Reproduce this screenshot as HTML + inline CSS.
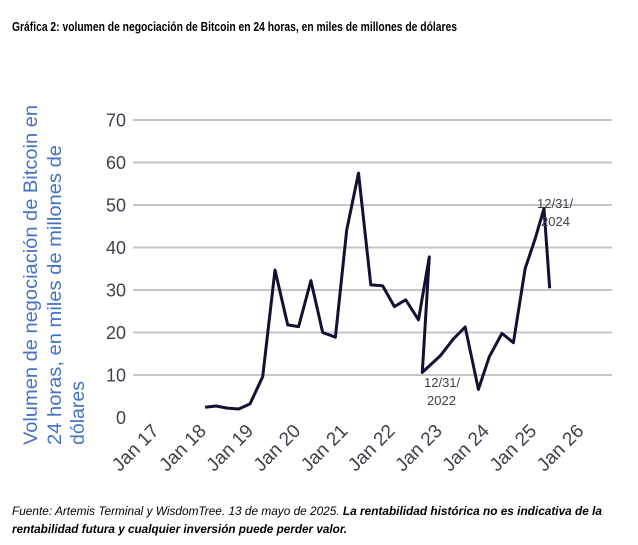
<!DOCTYPE html>
<html><head><meta charset="utf-8"><style>
html,body{margin:0;padding:0;background:#fff;}
svg{display:block;font-family:"Liberation Sans",sans-serif;}
</style></head><body>
<svg id="chart" width="638" height="545" viewBox="0 0 638 545" xmlns="http://www.w3.org/2000/svg">
<text x="12" y="31" font-size="12.5" font-weight="bold" fill="#000" textLength="445" lengthAdjust="spacingAndGlyphs">Gráfica 2: volumen de negociación de Bitcoin en 24 horas, en miles de millones de dólares</text>
<g fill="#4472c4" font-size="19">
<text transform="translate(37,445) rotate(-90)" textLength="340" lengthAdjust="spacingAndGlyphs">Volumen de negociación de Bitcoin en</text>
<text transform="translate(61,445) rotate(-90)" textLength="300" lengthAdjust="spacingAndGlyphs">24 horas, en miles de millones de</text>
<text transform="translate(84,445) rotate(-90)" textLength="64" lengthAdjust="spacingAndGlyphs">dólares</text>
</g>
<g id="grid"></g><g id="yticks"></g><g id="xticks"></g>
<path id="line" fill="none" stroke="#111133" stroke-width="3" stroke-linejoin="round"/>
<g font-size="13" fill="#404050">
<text x="424" y="387">12/31/</text><text x="427" y="405">2022</text>
</g>
<g font-size="13" fill="#404050">
<text x="537" y="208">12/31/</text><text x="541" y="226">2024</text>
</g>
<g font-size="11.5" fill="#000" font-style="italic">
<text x="12" y="515" textLength="590" lengthAdjust="spacingAndGlyphs">Fuente: Artemis Terminal y WisdomTree. 13 de mayo de 2025. <tspan font-weight="bold">La rentabilidad histórica no es indicativa de la</tspan></text>
<text x="12" y="533" font-weight="bold" textLength="335" lengthAdjust="spacingAndGlyphs">rentabilidad futura y cualquier inversión puede perder valor.</text>
</g>
</svg>
<script>
const yTicks=[0,10,20,30,40,50,60,70];
const xTickLabels=["Jan 17","Jan 18","Jan 19","Jan 20","Jan 21","Jan 22","Jan 23","Jan 24","Jan 25","Jan 26"];
const xTickYears=[17,18,19,20,21,22,23,24,25,26];
const dates=[18.02,18.25,18.49,18.73,18.97,19.24,19.50,19.77,20.00,20.26,20.51,20.78,21.02,21.27,21.53,21.78,22.03,22.27,22.54,22.77,22.62,23.0,23.28,23.53,23.81,24.04,24.31,24.55,24.80,25.01,25.20,25.32];
const volumes=[2.4,2.7,2.2,2.0,3.2,9.6,34.7,21.8,21.4,32.2,20.0,18.9,44.1,57.5,31.2,31.0,26.1,27.7,23.0,37.8,10.6,14.5,18.5,21.3,6.6,14.3,19.8,17.6,35.1,42.0,49.2,30.4];
const NS="http://www.w3.org/2000/svg";
const X=v=>157+(v-17)*47.2;
const Y=v=>417.5-v*4.25;
const grid=document.getElementById('grid'),yt=document.getElementById('yticks'),xt=document.getElementById('xticks');
yTicks.forEach(t=>{
  if(t>0){const l=document.createElementNS(NS,'line');
  
  
  l.setAttribute('x1',133);l.setAttribute('x2',612);l.setAttribute('y1',Y(t));l.setAttribute('y2',Y(t));
  l.setAttribute('stroke','#c4c6ca');l.setAttribute('stroke-width','2');grid.appendChild(l);}
  const tx=document.createElementNS(NS,'text');
  
  
  tx.setAttribute('x',126);tx.setAttribute('y',Y(t)+6.5);tx.setAttribute('text-anchor','end');
  tx.setAttribute('font-size','18');tx.setAttribute('fill','#404050');tx.textContent=t;yt.appendChild(tx);
});
xTickLabels.forEach((s,i)=>{
  const tx=document.createElementNS(NS,'text');
  
  
  const x=X(xTickYears[i]);
  tx.setAttribute('transform','translate('+(x+3)+',432) rotate(-45)');
  tx.setAttribute('text-anchor','end');tx.setAttribute('font-size','19');tx.setAttribute('fill','#404050');
  tx.textContent=s;xt.appendChild(tx);
});
document.getElementById('line').setAttribute('d',dates.map((d,i)=>(i?'L':'M')+X(d).toFixed(1)+','+Y(volumes[i]).toFixed(1)).join(' '));
</script>
</body></html>
